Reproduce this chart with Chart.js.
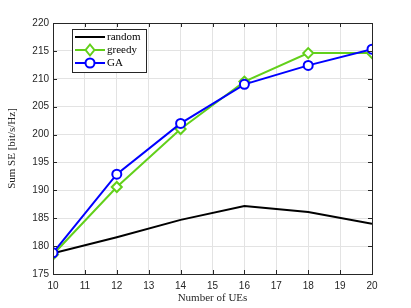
<!DOCTYPE html>
<html>
<head>
<meta charset="utf-8">
<script src="https://cdn.jsdelivr.net/npm/chart.js@4"></script>
<style>
  html, body { margin: 0; padding: 0; background: #fff; }
  #wrap { width: 411px; height: 308px; }
</style>
</head>
<body>
<div id="wrap"><canvas id="c" width="411" height="308"></canvas></div>
<script>
// number of UEs and sum SE per scheme
const numUEs = [10, 12, 14, 16, 18, 20]
const randomSE = [178.7, 181.6, 184.7, 187.2, 186.1, 184.0]
const greedySE = [178.5, 190.6, 201.0, 209.5, 214.6, 214.6]
const gaSE = [178.8, 192.9, 202.0, 209.0, 212.4, 215.3]

const xTitle = "Number of UEs"
const yTitle = "Sum SE [bit/s/Hz]"

const GREEN = "#62d01a"
const BLUE = "#0000ff"
const AXIS = "#262626"
const serif = '"Liberation Serif", "DejaVu Serif", serif'
const sans = '"Liberation Sans", Arial, sans-serif'

function pts(ys){
  return numUEs.map((x, i) => ({x: x, y: ys[i]}))
}

// matlab style box with inward ticks, plus the legend box
const frame = {
  id: "frame",
  afterDraw(chart){
    const ctx = chart.ctx
    const a = chart.chartArea
    const xs = chart.scales.x, ys = chart.scales.y
    ctx.save()
    ctx.strokeStyle = AXIS
    ctx.lineWidth = 1
    ctx.strokeRect(Math.round(a.left) + 0.5, Math.round(a.top) + 0.5,
      Math.round(a.right - a.left), Math.round(a.bottom - a.top))
    ctx.beginPath()
    xs.ticks.forEach(t => {
      const px = Math.round(xs.getPixelForValue(t.value)) + 0.5
      ctx.moveTo(px, a.bottom); ctx.lineTo(px, a.bottom - 4)
      ctx.moveTo(px, a.top); ctx.lineTo(px, a.top + 4)
    })
    ys.ticks.forEach(t => {
      const py = Math.round(ys.getPixelForValue(t.value)) + 0.5
      ctx.moveTo(a.left, py); ctx.lineTo(a.left + 4, py)
      ctx.moveTo(a.right, py); ctx.lineTo(a.right - 4, py)
    })
    ctx.stroke()

    // legend
    const bx = 72.5, by = 29.5, bw = 74, bh = 43
    ctx.fillStyle = "#fff"
    ctx.fillRect(bx, by, bw, bh)
    ctx.strokeStyle = AXIS
    ctx.strokeRect(bx, by, bw, bh)
    const rowY = [37, 50, 63]
    chart.data.datasets.forEach((ds, i) => {
      const y = rowY[i]
      ctx.strokeStyle = ds.borderColor
      ctx.lineWidth = 2
      ctx.beginPath(); ctx.moveTo(75, y); ctx.lineTo(105, y); ctx.stroke()
      if (ds.pointRadius > 0){
        ctx.fillStyle = "#fff"
        ctx.beginPath()
        if (ds.pointStyle === "rectRot"){
          const r = 5.5
          ctx.moveTo(90, y - r); ctx.lineTo(90 + r * 0.8, y); ctx.lineTo(90, y + r); ctx.lineTo(90 - r * 0.8, y); ctx.closePath()
        } else {
          ctx.arc(90, y, 4.5, 0, Math.PI * 2)
        }
        ctx.fill(); ctx.stroke()
      }
      ctx.fillStyle = "#000"
      ctx.font = "11px " + serif
      ctx.textBaseline = "middle"
      ctx.fillText(ds.label, 107, y)
    })
    ctx.restore()
  }
}

new Chart(document.getElementById("c"), {
  type: "line",
  data: {
    datasets: [
      {
        label: "random",
        data: pts(randomSE),
        borderColor: "#000",
        borderWidth: 2,
        pointRadius: 0,
        order: 3
      },
      {
        label: "greedy",
        data: pts(greedySE),
        borderColor: GREEN,
        backgroundColor: "#fff",
        borderWidth: 2,
        pointStyle: "rectRot",
        pointRadius: 5,
        pointBorderWidth: 2,
        order: 2
      },
      {
        label: "GA",
        data: pts(gaSE),
        borderColor: BLUE,
        backgroundColor: "#fff",
        borderWidth: 2,
        pointStyle: "circle",
        pointRadius: 4.5,
        pointBorderWidth: 2,
        order: 1
      }
    ]
  },
  options: {
    responsive: false,
    animation: false,
    layout: { padding: { top: 23, right: 39, left: 0, bottom: 0 } },
    plugins: { legend: { display: false }, tooltip: { enabled: false } },
    scales: {
      x: {
        type: "linear",
        min: 10, max: 20,
        afterFit(s){ s.height = 34 },
        ticks: { stepSize: 1, padding: 6, color: AXIS, font: { family: sans, size: 10 } },
        grid: { color: "#e3e3e3", drawTicks: false },
        border: { display: false },
        title: { display: true, text: xTitle, color: AXIS, padding: { top: 0, bottom: 3 }, font: { family: serif, size: 11 } }
      },
      y: {
        min: 175, max: 220,
        afterFit(s){ s.width = 53 },
        ticks: { stepSize: 5, padding: 4, color: AXIS, font: { family: sans, size: 10 } },
        grid: { color: "#e3e3e3", drawTicks: false },
        border: { display: false },
        title: { display: true, text: yTitle, color: AXIS, padding: { top: 6, bottom: 6 }, font: { family: serif, size: 11 } }
      }
    }
  },
  plugins: [frame]
})
</script>
</body>
</html>
